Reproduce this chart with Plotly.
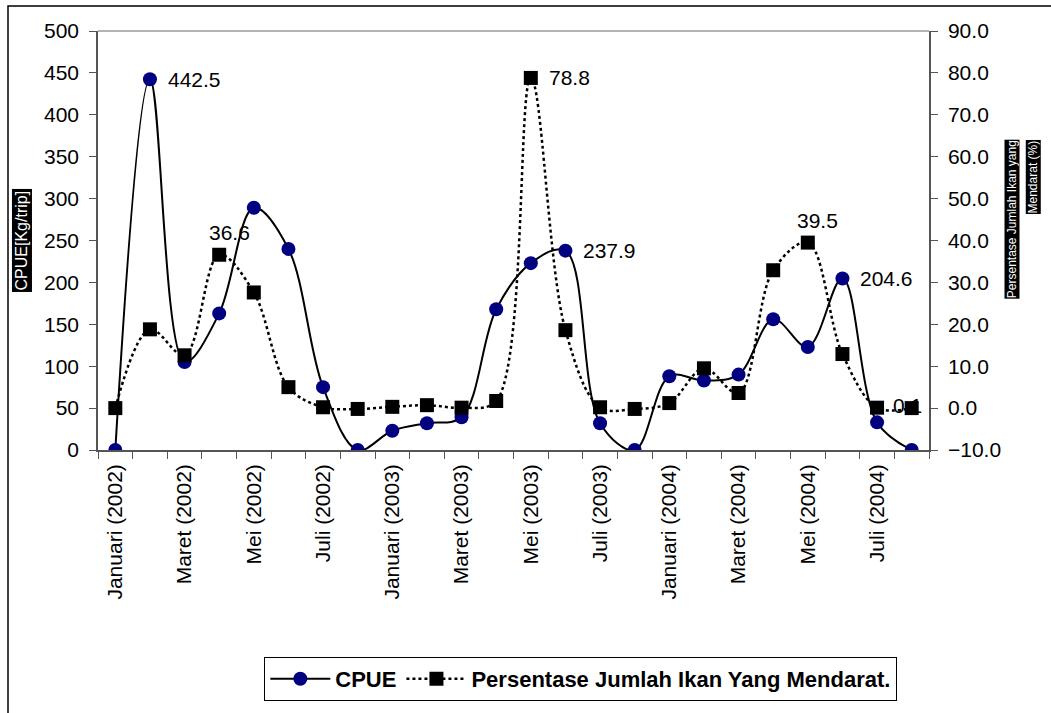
import plotly.graph_objects as go

# Monthly sampling periods (x axis categories)
months = [
    "Januari (2002)", "Februari (2002)", "Maret (2002)", "April (2002)",
    "Mei (2002)", "Juni (2002)", "Juli (2002)", "Agustus (2002)",
    "Januari (2003)", "Februari (2003)", "Maret (2003)", "April (2003)",
    "Mei (2003)", "Juni (2003)", "Juli (2003)", "Agustus (2003)",
    "Januari (2004)", "Februari (2004)", "Maret (2004)", "April (2004)",
    "Mei (2004)", "Juni (2004)", "Juli (2004)", "Agustus (2004)",
]

# Catch per unit effort (kg/trip), left axis
cpue = [0, 442.5, 105, 163, 289, 240, 75, 0,
        23, 32, 39, 168, 223, 237.9, 32, 0,
        88, 83, 90, 156, 123, 204.6, 33, 0]

# Percentage of landed fish (%), right axis
persen = [0.0, 18.8, 12.6, 36.6, 27.6, 5.0, 0.2, -0.2,
          0.3, 0.7, 0.1, 1.7, 78.8, 18.6, 0.2, -0.2,
          1.2, 9.5, 3.6, 32.9, 39.5, 12.9, 0.1, 0.0]

# Points whose values are written beside them: (index, placement)
cpue_labels = [(1, "right"), (13, "right"), (21, "right")]
persen_labels = [(3, "above"), (12, "right"), (20, "above")]
persen_hidden_label = 22  # partly covered by the next marker

xs = list(range(len(months)))
tick_idx = xs[::2]
tick_txt = [months[i] for i in tick_idx]

FONT = "Liberation Sans, Arial, sans-serif"
NAVY = "#000080"
TICK_SIZE = 21
LABEL_SIZE = 21

fig = go.Figure()

# value label drawn beneath the markers
fig.add_trace(go.Scatter(
    x=[xs[persen_hidden_label]], y=[persen[persen_hidden_label]], yaxis="y2",
    mode="markers+text", text=[f"{persen[persen_hidden_label]:.1f}"],
    textposition="middle right",
    marker=dict(size=24, opacity=0),
    textfont=dict(family=FONT, size=LABEL_SIZE, color="black"),
    showlegend=False, hoverinfo="skip",
))

fig.add_trace(go.Scatter(
    x=xs, y=cpue, name="CPUE", mode="lines+markers",
    line=dict(color="black", width=2, shape="spline", smoothing=1),
    marker=dict(symbol="circle", size=14, color=NAVY),
))

fig.add_trace(go.Scatter(
    x=xs, y=persen, name="Persentase Jumlah Ikan Yang Mendarat.", yaxis="y2",
    mode="lines+markers",
    line=dict(color="black", width=2.5, dash="dot", shape="spline", smoothing=1),
    marker=dict(symbol="square", size=14, color="black"),
))

annotations = []


def add_label(i, val, yref, place):
    if place == "right":
        annotations.append(dict(x=i, y=val, xref="x", yref=yref,
                                text=f"{val:.1f}", showarrow=False,
                                xanchor="left", yanchor="middle", xshift=16,
                                font=dict(family=FONT, size=LABEL_SIZE, color="black")))
    else:
        annotations.append(dict(x=i, y=val, xref="x", yref=yref,
                                text=f"{val:.1f}", showarrow=False,
                                xanchor="center", yanchor="bottom",
                                xshift=10, yshift=9,
                                font=dict(family=FONT, size=LABEL_SIZE, color="black")))


for i, place in cpue_labels:
    add_label(i, cpue[i], "y", place)
for i, place in persen_labels:
    add_label(i, persen[i], "y2", place)

# Axis titles on black bands
annotations.append(dict(x=-0.0915, y=0.50, xref="paper", yref="paper",
                        text="CPUE[Kg/trip]", textangle=-90, showarrow=False,
                        xanchor="center", yanchor="middle",
                        bgcolor="black", borderpad=1,
                        font=dict(family=FONT, size=16, color="white")))
annotations.append(dict(x=1.100, y=0.742, xref="paper", yref="paper",
                        text="Persentase Jumlah Ikan yang", textangle=-90,
                        showarrow=False, xanchor="center", yanchor="top",
                        bgcolor="black", borderpad=0,
                        font=dict(family=FONT, size=12, color="white")))
annotations.append(dict(x=1.125, y=0.742, xref="paper", yref="paper",
                        text="Mendarat (%)", textangle=-90,
                        showarrow=False, xanchor="center", yanchor="top",
                        bgcolor="black", borderpad=0,
                        font=dict(family=FONT, size=12, color="white")))

fig.update_layout(
    width=1051, height=713,
    margin=dict(l=98, r=122, t=31, b=263),
    paper_bgcolor="white", plot_bgcolor="white",
    font=dict(family=FONT, size=TICK_SIZE, color="black"),
    xaxis=dict(
        range=[-0.5, len(months) - 0.5], tickmode="array",
        tickvals=tick_idx, ticktext=tick_txt, tickangle=-90,
        ticks="", showgrid=False, zeroline=False,
        showline=True, linecolor="#555555", linewidth=1.5,
        tickfont=dict(family=FONT, size=TICK_SIZE),
        ticklabelstandoff=4,
        minor=dict(ticks="outside", tick0=0.5, dtick=1, ticklen=7,
                   tickcolor="#555555", showgrid=False),
    ),
    yaxis=dict(
        range=[0, 500], dtick=50, ticks="outside", ticklen=7,
        tickcolor="#555555", showgrid=False, zeroline=False,
        showline=True, linecolor="#555555", linewidth=1.5,
        tickfont=dict(family=FONT, size=TICK_SIZE),
        ticklabelstandoff=6,
    ),
    yaxis2=dict(
        range=[-10, 90], dtick=10, tickformat=".1f", overlaying="y",
        side="right", ticks="outside", ticklen=7, tickcolor="#555555",
        showgrid=False, zeroline=False,
        showline=True, linecolor="#555555", linewidth=1.5,
        tickfont=dict(family=FONT, size=TICK_SIZE),
        ticklabelstandoff=6,
    ),
    legend=dict(
        orientation="h", x=0.581, y=-0.494, xanchor="center", yanchor="top",
        bordercolor="black", borderwidth=1, bgcolor="white",
        font=dict(family=FONT, size=22, color="black", weight="bold"),
        itemwidth=60,
    ),
    annotations=annotations,
    shapes=[
        # top edge of the plotting area
        dict(type="line", xref="paper", yref="paper", x0=0, x1=1, y0=1, y1=1,
             line=dict(color="#9a9a9a", width=1.5)),
        # outer frame of the chart
        dict(type="rect", xref="paper", yref="paper",
             x0=-0.1083, x1=1.15, y0=-0.64, y1=1.0597,
             line=dict(color="black", width=1.5)),
    ],
)

fig.write_html("out.html")
